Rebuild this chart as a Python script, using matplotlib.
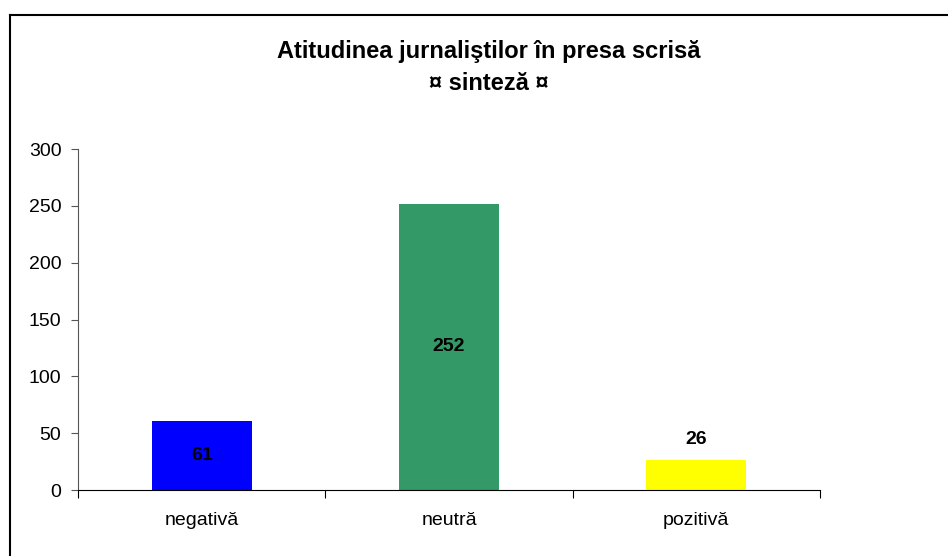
import matplotlib.pyplot as plt
from matplotlib.lines import Line2D

plt.rcParams['font.family'] = ['Liberation Sans', 'DejaVu Sans']

categories = ['negativă', 'neutră', 'pozitivă']
values = [61, 252, 26]
colors = ['#0000FF', '#339966', '#FFFF00']
yticks = [0, 50, 100, 150, 200, 250, 300]

fig = plt.figure(figsize=(9.48, 5.56), dpi=100)
ax = fig.add_axes([0.0823, 0.1187, 0.7827, 0.6133])

x = range(len(categories))
bars = ax.bar(x, values, width=0.405, color=colors)

ax.set_xlim(-0.5, 2.5)
ax.set_ylim(0, 300)
ax.set_yticks(yticks)
ax.tick_params(axis='y', labelsize=14, length=5, pad=7, color='#555555')
ax.set_xticks([i + 0.5 for i in range(-1, len(categories))])
ax.set_xticklabels([])
ax.set_xticks(list(x), minor=True)
ax.set_xticklabels(categories, minor=True)
ax.tick_params(axis='x', which='major', length=6, color='black')
ax.tick_params(axis='x', which='minor', length=0, labelsize=14, pad=16)

for s in ['top', 'right']:
    ax.spines[s].set_visible(False)
ax.spines['left'].set_color('#555555')
ax.spines['bottom'].set_color('black')

# data labels: centred in tall bars, above the short one
for b, v in zip(bars, values):
    cx = b.get_x() + b.get_width() / 2
    if v > 50:
        ax.text(cx, v / 2, str(v), ha='center', va='center',
                fontsize=14, fontweight='bold')
    else:
        ax.annotate(str(v), (cx, v), xytext=(0, 15), textcoords='offset points',
                    ha='center', va='center', fontsize=14, fontweight='bold')

fig.text(0.516, 0.908, 'Atitudinea jurnaliştilor în presa scrisă',
         ha='center', va='center', fontsize=17, fontweight='bold')
fig.text(0.516, 0.849, '¤ sinteză ¤',
         ha='center', va='center', fontsize=17, fontweight='bold')

# chart frame (top and left edges)
fig.add_artist(Line2D([0.0105, 1.0], [0.973, 0.973], color='black', lw=1.5))
fig.add_artist(Line2D([0.0105, 0.0105], [0.0, 0.973], color='black', lw=1.5))

fig.savefig('out.png', dpi=100)
